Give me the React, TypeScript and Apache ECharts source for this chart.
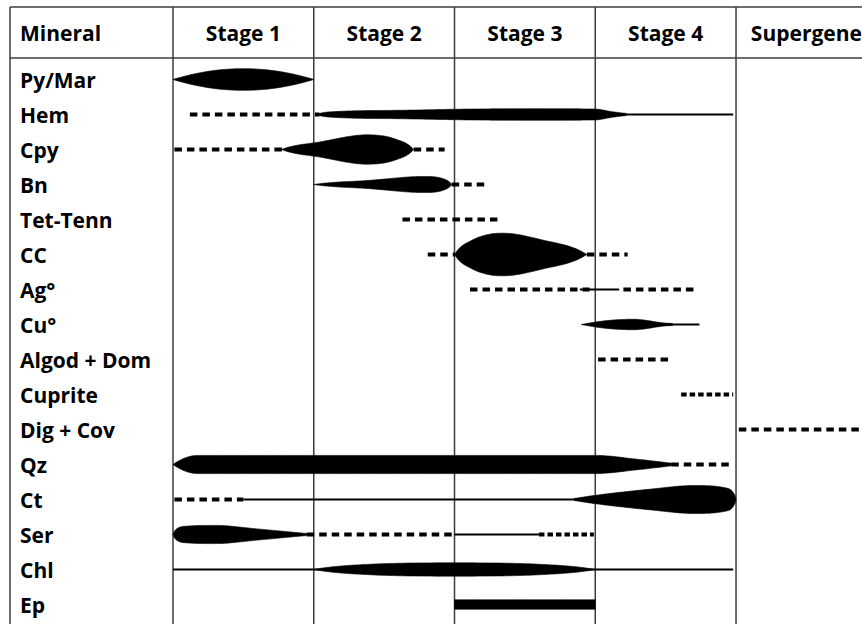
import React, { useEffect, useRef } from "react";
import * as echarts from "echarts";

// ---------- data ----------
const minerals = [
  "Py/Mar", "Hem", "Cpy", "Bn", "Tet-Tenn", "CC", "Ag°", "Cu°",
  "Algod + Dom", "Cuprite", "Dig + Cov", "Qz", "Ct", "Ser", "Chl", "Ep",
];
const stages = ["Stage 1", "Stage 2", "Stage 3", "Stage 4", "Supergene"];
const stageBoundaries = [0, 1, 2, 3, 4];
const headerTitle = "Mineral";

// [row, start, end] in stage units
const dashedSpans = [
  [1, 0.12, 1.04], [2, 0.01, 0.8], [2, 1.71, 1.93], [3, 1.98, 2.22],
  [4, 1.63, 2.32], [5, 1.81, 2.0], [5, 2.94, 3.23], [6, 2.11, 2.96],
  [6, 3.2, 3.72], [8, 3.02, 3.52], [10, 4.02, 4.9], [11, 3.54, 3.98],
  [12, 0.01, 0.5], [13, 0.95, 2.0],
];
const dottedSpans = [[9, 3.61, 3.98], [13, 2.6, 2.99]];
const solidSpans = [
  [1, 3.15, 3.98], [6, 2.89, 3.17], [7, 3.5, 3.74], [12, 0.5, 2.9],
  [13, 2.0, 2.6], [14, 0, 3.98],
];

// abundance profiles: [stage position, half-thickness in row heights]
const pyMarBody = [[0, 0], [0.5, 0.31], [1.0, 0]];
const hemBody = [[1.02, 0], [1.1, 0.07], [1.6, 0.12], [2.1, 0.155], [2.6, 0.165], [3.0, 0.155], [3.12, 0.08], [3.22, 0.03]];
const cpyBody = [[0.77, 0], [1.05, 0.22], [1.38, 0.42], [1.58, 0.3], [1.71, 0]];
const bnBody = [[1.0, 0], [1.4, 0.12], [1.78, 0.23], [1.93, 0.15], [1.98, 0]];
const ccBody = [[2.0, 0], [2.12, 0.4], [2.34, 0.61], [2.62, 0.42], [2.94, 0]];
const cuBody = [[2.9, 0], [3.27, 0.15], [3.5, 0.04], [3.55, 0.03]];
const qzBody = [[0, 0], [0.18, 0.26], [3.0, 0.26], [3.3, 0.15], [3.54, 0.04]];
const ctBody = [[2.85, 0.03], [3.0, 0.12], [3.4, 0.3], [3.7, 0.4], [3.93, 0.33], [3.985, 0.17], [4.0, 0]];
const serBody = [[0, 0], [0.02, 0.14], [0.1, 0.24], [0.3, 0.26], [0.6, 0.16], [0.95, 0.03]];
const chlBody = [[1.0, 0], [1.4, 0.15], [2.0, 0.19], [2.6, 0.15], [3.0, 0]];
const epBody = [[2.0, 0.135], [3.0, 0.135]];

const bodyRows = [0, 1, 2, 3, 5, 7, 11, 12, 13, 14, 15];
const bodyProfiles = [pyMarBody, hemBody, cpyBody, bnBody, ccBody, cuBody, qzBody, ctBody, serBody, chlBody, epBody];

// ---------- helpers ----------
function sampleProfile(p: number[][]): number[][] {
  const n = p.length;
  const d: number[] = [];
  for (let i = 0; i < n - 1; i++) d.push((p[i + 1][1] - p[i][1]) / (p[i + 1][0] - p[i][0]));
  const m: number[] = new Array(n).fill(0);
  m[0] = p[0][1] === 0 ? 2 * d[0] : d[0];
  m[n - 1] = p[n - 1][1] === 0 ? 2 * d[n - 2] : d[n - 2];
  for (let i = 1; i < n - 1; i++) {
    m[i] = d[i - 1] * d[i] <= 0 ? 0 : (d[i - 1] + d[i]) / 2;
  }
  for (let i = 0; i < n - 1; i++) {
    if (d[i] === 0) { m[i] = 0; m[i + 1] = 0; continue; }
    const a = m[i] / d[i];
    const b = m[i + 1] / d[i];
    const s = a * a + b * b;
    if (s > 9) {
      const t = 3 / Math.sqrt(s);
      m[i] = t * a * d[i];
      m[i + 1] = t * b * d[i];
    }
  }
  const out: number[][] = [];
  const steps = 18;
  for (let i = 0; i < n - 1; i++) {
    const x0 = p[i][0], x1 = p[i + 1][0], y0 = p[i][1], y1 = p[i + 1][1];
    const h = x1 - x0;
    for (let k = 0; k < steps; k++) {
      const t = k / steps;
      const t2 = t * t, t3 = t2 * t;
      const v = (2 * t3 - 3 * t2 + 1) * y0 + (t3 - 2 * t2 + t) * h * m[i] +
        (-2 * t3 + 3 * t2) * y1 + (t3 - t2) * h * m[i + 1];
      out.push([x0 + t * h, Math.max(0, v)]);
    }
  }
  out.push([p[n - 1][0], p[n - 1][1]]);
  return out;
}

const FONT = '"Open Sans", "Noto Sans", sans-serif';
const LABEL_SIZE = 21;
const TABLE_COLOR = "#3c3c3c";
const TABLE_TOP = 7;
const HEADER_BOTTOM = 58;
const HEADER_MID = 33;
const LEFT_BORDER = 10;
const PAGE_W = 862;
const PAGE_H = 624;

function spanSeries(data: number[][], lineWidth: number, dash: number[] | null) {
  return {
    type: "custom",
    clip: false,
    data: data.map((s) => [s[1], s[0], s[2]]),
    encode: { x: 0, y: 1 },
    renderItem: (params: any, api: any) => {
      const row = api.value(1);
      const p0 = api.coord([api.value(0), row]);
      const p1 = api.coord([api.value(2), row]);
      return {
        type: "line",
        shape: { x1: p0[0], y1: p0[1], x2: p1[0], y2: p1[1] },
        style: { stroke: "#000", lineWidth, lineDash: dash || undefined, lineCap: "butt" },
      };
    },
  };
}

export default function App() {
  const ref = useRef<HTMLDivElement>(null);
  useEffect(() => {
    if (!ref.current) return;
    const chart = echarts.init(ref.current, null, { renderer: "svg" });
    const option: any = {
      animation: false,
      backgroundColor: "#fff",
      grid: { left: 173, right: 0, top: 62, bottom: 2 },
      xAxis: {
        type: "value", min: 0, max: 4.895,
        axisLine: { show: false }, axisTick: { show: false },
        axisLabel: { show: false }, splitLine: { show: false },
      },
      yAxis: {
        type: "category", inverse: true, data: minerals,
        axisLine: { show: false }, axisTick: { show: false }, splitLine: { show: false },
        axisLabel: {
          align: "left", margin: 153, color: "#000",
          fontFamily: FONT, fontWeight: "bold", fontSize: LABEL_SIZE,
        },
      },
      graphic: [
        { type: "line", shape: { x1: LEFT_BORDER, y1: TABLE_TOP, x2: PAGE_W, y2: TABLE_TOP }, style: { stroke: TABLE_COLOR, lineWidth: 1.5 } },
        { type: "line", shape: { x1: LEFT_BORDER, y1: HEADER_BOTTOM, x2: PAGE_W, y2: HEADER_BOTTOM }, style: { stroke: TABLE_COLOR, lineWidth: 1.5 } },
        { type: "line", shape: { x1: LEFT_BORDER, y1: TABLE_TOP, x2: LEFT_BORDER, y2: PAGE_H }, style: { stroke: TABLE_COLOR, lineWidth: 1.5 } },
        {
          type: "text", x: 20, y: HEADER_MID,
          style: { text: headerTitle, fill: "#000", fontFamily: FONT, fontWeight: "bold", fontSize: LABEL_SIZE, verticalAlign: "middle", align: "left" },
        },
      ],
      series: [
        {
          type: "custom", clip: false,
          data: stageBoundaries.map((b) => [b, 0]),
          encode: { x: 0, y: 1 },
          renderItem: (params: any, api: any) => {
            const x = api.coord([api.value(0), 0])[0];
            return {
              type: "line",
              shape: { x1: x, y1: TABLE_TOP, x2: x, y2: PAGE_H },
              style: { stroke: TABLE_COLOR, lineWidth: 1.5 },
            };
          },
        },
        {
          type: "custom", clip: false,
          data: stages.map((s, i) => [i + 0.5, 0, i]),
          encode: { x: 0, y: 1 },
          renderItem: (params: any, api: any) => {
            const x = api.coord([api.value(0), 0])[0];
            return {
              type: "text", x, y: HEADER_MID,
              style: {
                text: stages[api.value(2)], fill: "#000", fontFamily: FONT,
                fontWeight: "bold", fontSize: LABEL_SIZE, align: "center", verticalAlign: "middle",
              },
            };
          },
        },
        {
          type: "custom", clip: false,
          data: bodyRows.map((r, i) => [bodyProfiles[i][0][0], r, i]),
          encode: { x: 0, y: 1 },
          renderItem: (params: any, api: any) => {
            const row = api.value(1);
            const prof = bodyProfiles[api.value(2)];
            const band = api.size([0, 1])[1];
            const yc = api.coord([0, row])[1];
            const pts = sampleProfile(prof);
            const top = pts.map(([x, a]) => [api.coord([x, row])[0], yc - a * band]);
            const bottom = pts.map(([x, a]) => [api.coord([x, row])[0], yc + a * band]).reverse();
            return {
              type: "polygon",
              shape: { points: top.concat(bottom) },
              style: { fill: "#000", stroke: "#000", lineWidth: 0.6 },
            };
          },
        },
        spanSeries(solidSpans, 2, null),
        spanSeries(dashedSpans, 4, [7.5, 5]),
        spanSeries(dottedSpans, 4, [5.5, 3]),
      ],
    };
    chart.setOption(option);
    return () => chart.dispose();
  }, []);
  return (
    <div
      ref={ref}
      style={{ position: "fixed", left: 0, top: 0, width: PAGE_W, height: PAGE_H, background: "#fff" }}
    />
  );
}
